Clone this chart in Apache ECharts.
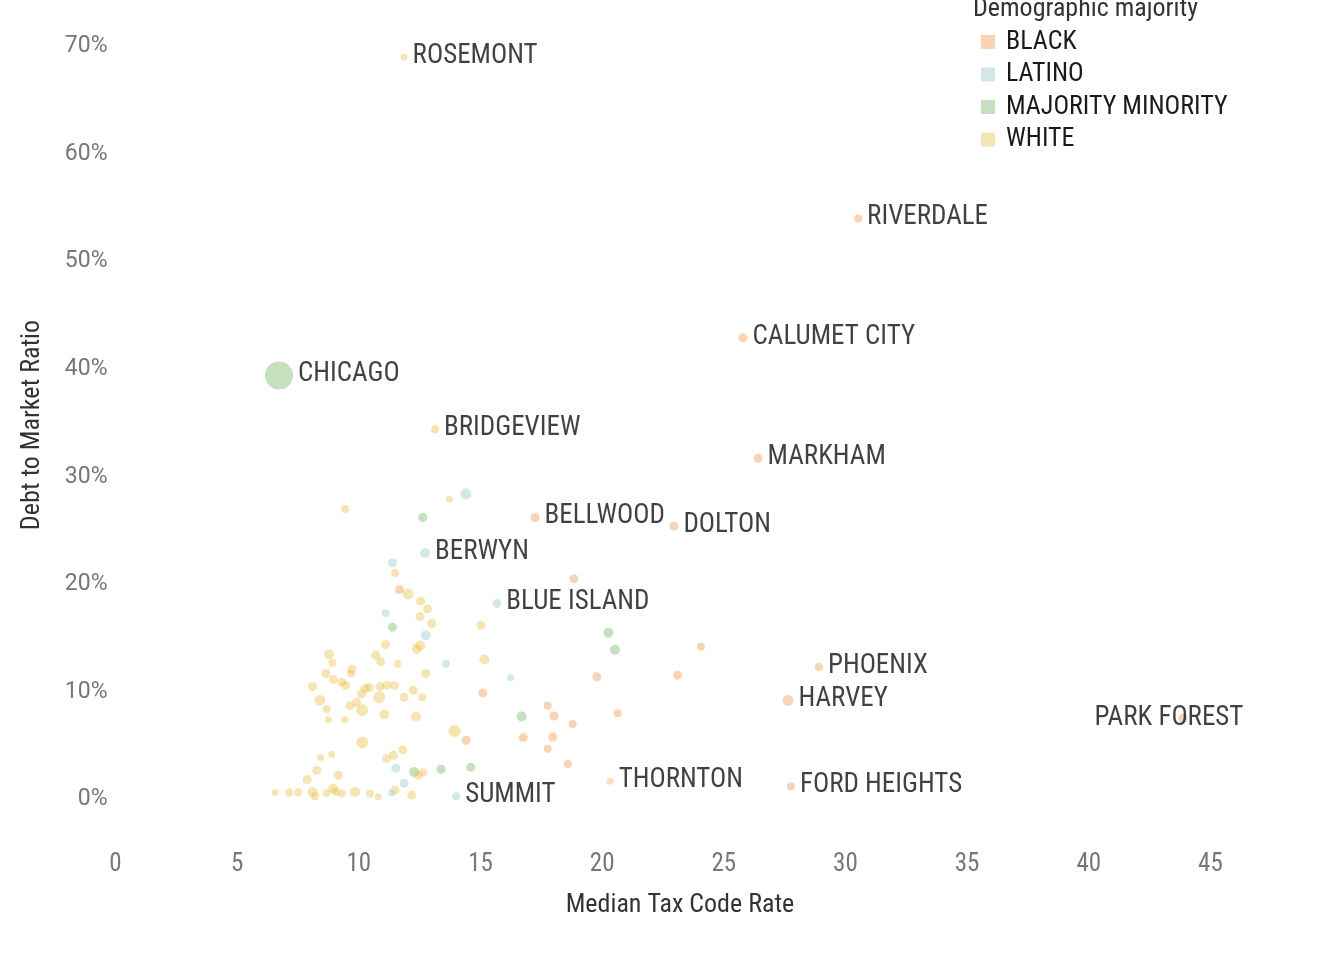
<!DOCTYPE html>
<html>
<head>
<meta charset="utf-8">
<script src="https://cdn.jsdelivr.net/npm/echarts@6/dist/echarts.min.js"></script>
<style>html,body{margin:0;padding:0;background:#fff;}#c{width:1329px;height:966px;}</style>
</head>
<body>
<div id="c"></div>
<script>
// ---- data ----
const groups = ['BLACK', 'LATINO', 'MAJORITY MINORITY', 'WHITE'];
const xTicks = [0, 5, 10, 15, 20, 25, 30, 35, 40, 45];
const yTicks = [0, 10, 20, 30, 40, 50, 60, 70];

const blackNames = ['RIVERDALE','CALUMET CITY','MARKHAM','BELLWOOD','DOLTON','PHOENIX','HARVEY','PARK FOREST','FORD HEIGHTS','','','','','','','','','','','','','','',''];
const blackX = [30.52,25.79,26.41,17.24,22.95,28.91,27.64,43.87,27.76,11.67,15.09,14.41,18.84,24.06,19.78,23.10,17.76,18.02,18.79,20.64,16.76,17.97,17.76,18.59];
const blackY = [53.7,42.6,31.4,25.9,25.1,12.0,8.9,7.25,0.93,19.2,9.6,5.2,20.2,13.9,11.1,11.25,8.4,7.45,6.7,7.7,5.45,5.5,4.4,3.0];
const blackSize = [8,9,9,9,9,8,11,9,8,9,9,9,9,8,9,9,8,9,8,8,9,9,8,8];

const latinoNames = ['BERWYN','BLUE ISLAND','SUMMIT','','','','','','','','',''];
const latinoX = [12.72,15.67,14.00,14.40,11.38,11.10,12.75,13.58,16.24,11.52,11.86,11.35];
const latinoY = [22.6,17.9,0.0,28.1,21.7,17.0,14.96,12.3,11.0,2.6,1.2,0.3];
const latinoSize = [10,9,8,11,9,8,10,8,7,9,9,7];

const minorityNames = ['CHICAGO','','','','','','','',''];
const minorityX = [6.72,12.63,11.38,20.26,20.53,16.69,12.27,13.38,14.60];
const minorityY = [39.1,25.9,15.7,15.2,13.6,7.4,2.26,2.5,2.7];
const minoritySize = [28,9,9,10,10,10,10,9,9];

const whiteNames = ['ROSEMONT','BRIDGEVIEW','THORNTON'];
const whiteX = [11.86,13.13,20.33,9.44,13.72,11.49,12.03,12.54,12.82,12.51,13.00,12.52,12.38,11.10,10.70,10.90,11.60,8.78,8.91,9.71,9.68,8.65,8.95,9.30,9.46,8.10,8.40,8.68,8.75,9.43,9.64,9.91,10.14,10.12,10.25,10.43,10.87,11.15,11.46,10.84,11.86,12.24,12.61,12.75,11.05,12.35,15.02,15.16,13.93,10.14,8.43,8.88,8.27,9.16,7.88,6.56,7.14,7.51,8.10,8.20,8.68,8.95,9.06,9.30,9.84,10.46,10.80,11.15,11.42,11.80,12.45,12.65,11.49,12.17];
const whiteY = [68.7,34.1,1.4,26.7,27.6,20.75,18.8,18.15,17.4,16.7,16.05,14.0,13.7,14.1,13.1,12.5,12.3,13.2,12.4,11.8,11.4,11.4,10.85,10.6,10.3,10.2,8.9,8.1,7.1,7.1,8.4,8.7,8.0,9.5,10.0,10.1,10.2,10.3,10.3,9.2,9.2,9.85,9.2,11.4,7.6,7.4,15.9,12.7,6.07,5.0,3.6,3.9,2.4,1.95,1.55,0.35,0.35,0.35,0.4,0.0,0.3,0.7,0.4,0.25,0.4,0.25,-0.06,3.5,3.8,4.3,1.95,2.2,0.56,0.1];
const whiteSize = [7,8,7,8,7,8,11,9,9,9,9,10,10,9,9,9,8,10,8,9,8,9,9,9,9,9,11,8,7,7,9,9,12,9,9,9,9,9,9,12,9,9,8,9,10,10,9,10,12,12,7,7,9,9,9,7,8,8,10,8,8,10,8,8,10,8,7,9,9,9,9,8,9,9];

// ---- styles ----
const colors = ['rgba(239,145,65,0.5)', 'rgba(145,201,201,0.5)', 'rgba(113,181,97,0.5)', 'rgba(229,189,65,0.5)'];
const FONT = "'Roboto Condensed','Liberation Sans Narrow','Arial Narrow','DejaVu Sans Condensed',Roboto,sans-serif";

function build(names, xs, ys, sizes) {
  return xs.map((x, i) => {
    const nm = names[i] || '';
    const item = { value: [x, ys[i], sizes[i]], name: nm };
    if (nm) {
      item.label = { show: true };
      if (nm === 'PARK FOREST') item.label.position = [-84, -8];
    }
    return item;
  });
}

const seriesData = [
  build(blackNames, blackX, blackY, blackSize),
  build(latinoNames, latinoX, latinoY, latinoSize),
  build(minorityNames, minorityX, minorityY, minoritySize),
  build(whiteNames, whiteX, whiteY, whiteSize)
];

const chart = echarts.init(document.getElementById('c'), null, { renderer: 'canvas' });
chart.setOption({
  animation: false,
  backgroundColor: '#ffffff',
  title: {
    text: 'Demographic majority',
    left: 968, top: -9,
    textStyle: { fontFamily: FONT, fontSize: 26, fontWeight: 'normal', color: '#333' }
  },
  legend: {
    orient: 'vertical',
    left: 976, top: 24,
    itemWidth: 14, itemHeight: 14,
    itemGap: 6.5,
    icon: 'rect',
    data: groups,
    textStyle: { fontFamily: FONT, fontSize: 26, color: '#1a1a1a', lineHeight: 26, padding: [0, 0, 0, 6] }
  },
  grid: { left: 115.5, right: 1329 - 1244.5, top: 0, bottom: 966 - 850, containLabel: false },
  xAxis: {
    type: 'value', min: 0, max: 46.4,
    name: 'Median Tax Code Rate', nameLocation: 'middle', nameGap: 42,
    nameTextStyle: { fontFamily: FONT, fontSize: 26, color: '#333' },
    axisLine: { show: false }, axisTick: { show: false }, splitLine: { show: false },
    axisLabel: { customValues: xTicks, margin: 2, fontFamily: FONT, fontSize: 25, color: '#777' }
  },
  yAxis: {
    type: 'value', min: -5, max: 74,
    name: 'Debt to Market Ratio', nameLocation: 'middle', nameGap: 70,
    nameTextStyle: { fontFamily: FONT, fontSize: 26, color: '#333' },
    axisLine: { show: false }, axisTick: { show: false }, splitLine: { show: false },
    axisLabel: { customValues: yTicks, margin: 8, verticalAlign: 'top', lineHeight: 7, fontFamily: 'Roboto, sans-serif', fontSize: 23, color: '#777', formatter: v => v + '%' }
  },
  series: groups.map((g, k) => ({
    name: g,
    type: 'scatter',
    data: seriesData[k],
    symbolSize: v => v[2],
    itemStyle: { color: colors[k], borderWidth: 0 },
    emphasis: { disabled: true },
    label: {
      show: false, position: 'right', distance: 5, offset: [0, -1],
      formatter: p => p.name,
      fontFamily: FONT, fontSize: 27, color: '#111'
    }
  }))
});
</script>
</body>
</html>
